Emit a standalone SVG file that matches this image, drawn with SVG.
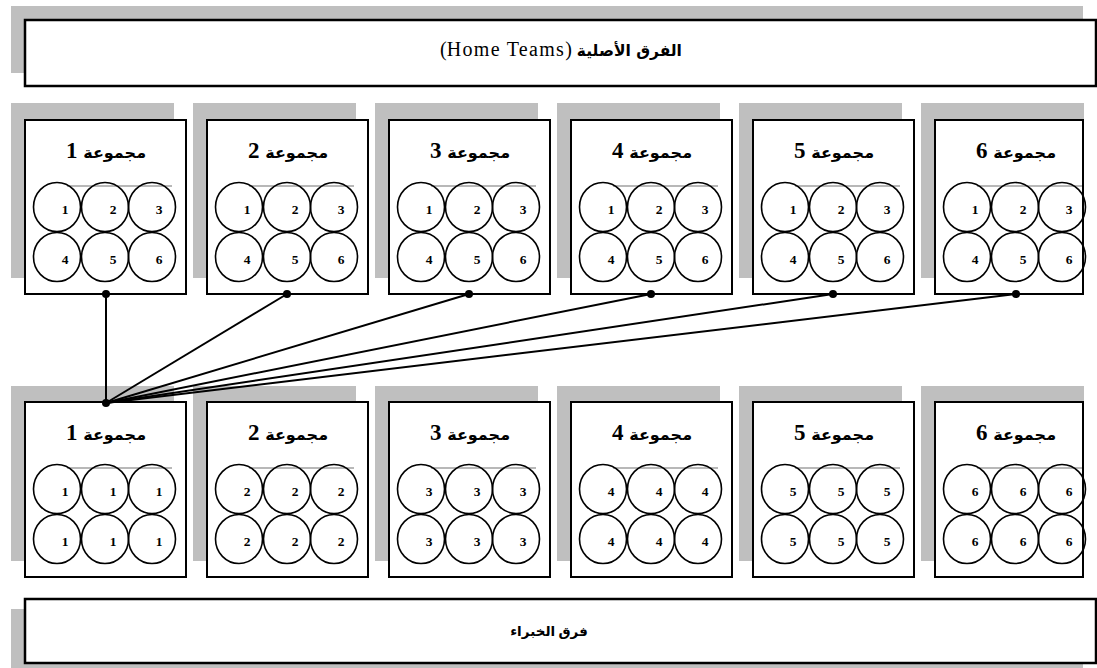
<svg xmlns="http://www.w3.org/2000/svg" width="1097" height="668" viewBox="0 0 1097 668">
<defs>
<style>
.shadow{fill:#bfbfbf}
.box{fill:#fff;stroke:#000;stroke-width:2}
.banner{fill:#fff;stroke:#000;stroke-width:2.5}
.c{fill:none;stroke:#000;stroke-width:1.6}
.gl{stroke:#a0a0a0;stroke-width:1.5}
.ttl{font-family:"Liberation Serif","DejaVu Sans",serif;font-weight:bold;font-size:23px;text-anchor:middle}
.ar{font-family:"DejaVu Sans",serif;font-size:16px}
.num{font-family:"Liberation Serif",serif;font-weight:bold;font-size:13.5px;text-anchor:middle}
.btxt{font-family:"Liberation Serif","DejaVu Sans",serif;text-anchor:middle}
.con{stroke:#000;stroke-width:2;fill:none}
</style>
<g id="cells">
<line class="gl" x1="42" y1="66" x2="147" y2="66"/>
<ellipse class="c" cx="32" cy="87" rx="23.5" ry="24.5"/>
<ellipse class="c" cx="80" cy="87" rx="23.5" ry="24.5"/>
<ellipse class="c" cx="127" cy="87" rx="23.5" ry="24.5"/>
<ellipse class="c" cx="32" cy="137" rx="23.5" ry="24.5"/>
<ellipse class="c" cx="80" cy="137" rx="23.5" ry="24.5"/>
<ellipse class="c" cx="127" cy="137" rx="23.5" ry="24.5"/>
</g>
</defs>

<g id="home-banner">
<rect class="shadow" x="11" y="6" width="1072" height="67"/>
<rect class="banner" x="25" y="20" width="1071" height="66"/>
<text class="btxt" x="561" y="56" direction="rtl"><tspan font-family="DejaVu Sans" font-size="15.5" font-weight="bold">الفرق الأصلية</tspan><tspan font-size="20" letter-spacing="1.3"> (Home Teams)</tspan></text>
</g>

<g id="expert-banner">
<rect class="shadow" x="11" y="609" width="1072" height="66"/>
<rect class="banner" x="25" y="599" width="1071" height="64"/>
<text class="btxt" x="549" y="636" font-family="DejaVu Sans" font-size="13.5" font-weight="bold" direction="rtl">فرق الخبراء</text>
</g>

<!-- top row -->
<g id="home-1" transform="translate(25,120)">
<rect class="shadow" x="-14" y="-17" width="163" height="175"/>
<rect class="box" x="0" y="0" width="161" height="174"/>
<text class="ttl" x="81" y="38" direction="rtl"><tspan class="ar">مجموعة</tspan> 1</text>
<use href="#cells"/>
<g class="num"><text x="40" y="94">1</text><text x="88" y="94">2</text><text x="134" y="94">3</text><text x="40" y="144">4</text><text x="88" y="144">5</text><text x="134" y="144">6</text></g>
</g>
<g id="home-2" transform="translate(207,120)">
<rect class="shadow" x="-14" y="-17" width="163" height="175"/>
<rect class="box" x="0" y="0" width="161" height="174"/>
<text class="ttl" x="81" y="38" direction="rtl"><tspan class="ar">مجموعة</tspan> 2</text>
<use href="#cells"/>
<g class="num"><text x="40" y="94">1</text><text x="88" y="94">2</text><text x="134" y="94">3</text><text x="40" y="144">4</text><text x="88" y="144">5</text><text x="134" y="144">6</text></g>
</g>
<g id="home-3" transform="translate(389,120)">
<rect class="shadow" x="-14" y="-17" width="163" height="175"/>
<rect class="box" x="0" y="0" width="161" height="174"/>
<text class="ttl" x="81" y="38" direction="rtl"><tspan class="ar">مجموعة</tspan> 3</text>
<use href="#cells"/>
<g class="num"><text x="40" y="94">1</text><text x="88" y="94">2</text><text x="134" y="94">3</text><text x="40" y="144">4</text><text x="88" y="144">5</text><text x="134" y="144">6</text></g>
</g>
<g id="home-4" transform="translate(571,120)">
<rect class="shadow" x="-14" y="-17" width="163" height="175"/>
<rect class="box" x="0" y="0" width="161" height="174"/>
<text class="ttl" x="81" y="38" direction="rtl"><tspan class="ar">مجموعة</tspan> 4</text>
<use href="#cells"/>
<g class="num"><text x="40" y="94">1</text><text x="88" y="94">2</text><text x="134" y="94">3</text><text x="40" y="144">4</text><text x="88" y="144">5</text><text x="134" y="144">6</text></g>
</g>
<g id="home-5" transform="translate(753,120)">
<rect class="shadow" x="-14" y="-17" width="163" height="175"/>
<rect class="box" x="0" y="0" width="161" height="174"/>
<text class="ttl" x="81" y="38" direction="rtl"><tspan class="ar">مجموعة</tspan> 5</text>
<use href="#cells"/>
<g class="num"><text x="40" y="94">1</text><text x="88" y="94">2</text><text x="134" y="94">3</text><text x="40" y="144">4</text><text x="88" y="144">5</text><text x="134" y="144">6</text></g>
</g>
<g id="home-6" transform="translate(935,120)">
<rect class="shadow" x="-14" y="-17" width="163" height="175"/>
<rect class="box" x="0" y="0" width="148" height="174"/>
<text class="ttl" x="81" y="38" direction="rtl"><tspan class="ar">مجموعة</tspan> 6</text>
<use href="#cells"/>
<g class="num"><text x="40" y="94">1</text><text x="88" y="94">2</text><text x="134" y="94">3</text><text x="40" y="144">4</text><text x="88" y="144">5</text><text x="134" y="144">6</text></g>
</g>

<!-- bottom row -->
<g id="expert-1" transform="translate(25,402)">
<rect class="shadow" x="-14" y="-16" width="163" height="175"/>
<rect class="box" x="0" y="0" width="161" height="175"/>
<text class="ttl" x="81" y="38" direction="rtl"><tspan class="ar">مجموعة</tspan> 1</text>
<use href="#cells"/>
<g class="num"><text x="40" y="94">1</text><text x="88" y="94">1</text><text x="134" y="94">1</text><text x="40" y="144">1</text><text x="88" y="144">1</text><text x="134" y="144">1</text></g>
</g>
<g id="expert-2" transform="translate(207,402)">
<rect class="shadow" x="-14" y="-16" width="163" height="175"/>
<rect class="box" x="0" y="0" width="161" height="175"/>
<text class="ttl" x="81" y="38" direction="rtl"><tspan class="ar">مجموعة</tspan> 2</text>
<use href="#cells"/>
<g class="num"><text x="40" y="94">2</text><text x="88" y="94">2</text><text x="134" y="94">2</text><text x="40" y="144">2</text><text x="88" y="144">2</text><text x="134" y="144">2</text></g>
</g>
<g id="expert-3" transform="translate(389,402)">
<rect class="shadow" x="-14" y="-16" width="163" height="175"/>
<rect class="box" x="0" y="0" width="161" height="175"/>
<text class="ttl" x="81" y="38" direction="rtl"><tspan class="ar">مجموعة</tspan> 3</text>
<use href="#cells"/>
<g class="num"><text x="40" y="94">3</text><text x="88" y="94">3</text><text x="134" y="94">3</text><text x="40" y="144">3</text><text x="88" y="144">3</text><text x="134" y="144">3</text></g>
</g>
<g id="expert-4" transform="translate(571,402)">
<rect class="shadow" x="-14" y="-16" width="163" height="175"/>
<rect class="box" x="0" y="0" width="161" height="175"/>
<text class="ttl" x="81" y="38" direction="rtl"><tspan class="ar">مجموعة</tspan> 4</text>
<use href="#cells"/>
<g class="num"><text x="40" y="94">4</text><text x="88" y="94">4</text><text x="134" y="94">4</text><text x="40" y="144">4</text><text x="88" y="144">4</text><text x="134" y="144">4</text></g>
</g>
<g id="expert-5" transform="translate(753,402)">
<rect class="shadow" x="-14" y="-16" width="163" height="175"/>
<rect class="box" x="0" y="0" width="161" height="175"/>
<text class="ttl" x="81" y="38" direction="rtl"><tspan class="ar">مجموعة</tspan> 5</text>
<use href="#cells"/>
<g class="num"><text x="40" y="94">5</text><text x="88" y="94">5</text><text x="134" y="94">5</text><text x="40" y="144">5</text><text x="88" y="144">5</text><text x="134" y="144">5</text></g>
</g>
<g id="expert-6" transform="translate(935,402)">
<rect class="shadow" x="-14" y="-16" width="163" height="175"/>
<rect class="box" x="0" y="0" width="148" height="175"/>
<text class="ttl" x="81" y="38" direction="rtl"><tspan class="ar">مجموعة</tspan> 6</text>
<use href="#cells"/>
<g class="num"><text x="40" y="94">6</text><text x="88" y="94">6</text><text x="134" y="94">6</text><text x="40" y="144">6</text><text x="88" y="144">6</text><text x="134" y="144">6</text></g>
</g>

<g id="connectors">
<line class="con" x1="106" y1="403" x2="106" y2="294"/>
<line class="con" x1="106" y1="403" x2="287" y2="294"/>
<line class="con" x1="106" y1="403" x2="469" y2="294"/>
<line class="con" x1="106" y1="403" x2="651" y2="294"/>
<line class="con" x1="106" y1="403" x2="833" y2="294"/>
<line class="con" x1="106" y1="403" x2="1016" y2="294"/>
<g fill="#000">
<circle cx="106" cy="294" r="4"/>
<circle cx="287" cy="294" r="4"/>
<circle cx="469" cy="294" r="4"/>
<circle cx="651" cy="294" r="4"/>
<circle cx="833" cy="294" r="4"/>
<circle cx="1016" cy="294" r="4"/>
<circle cx="106" cy="403" r="4"/>
</g>
</g>
</svg>
